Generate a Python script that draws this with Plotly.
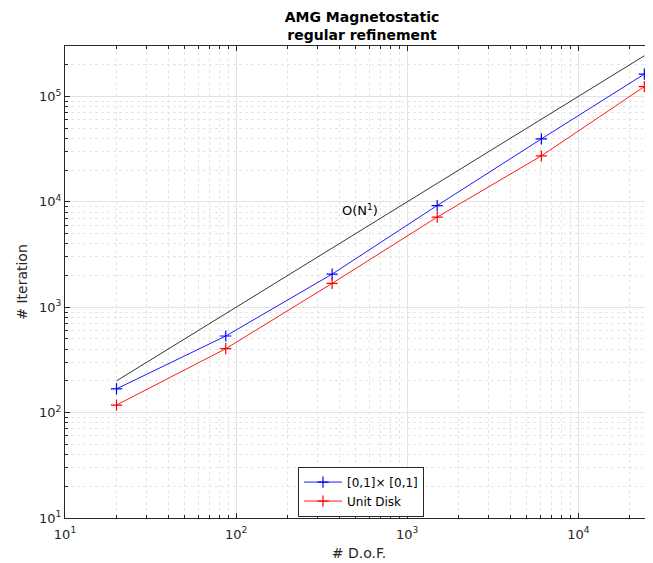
import plotly.graph_objects as go

# Data
dof = [20, 87, 364, 1497, 6084, 24320]
iter_square = [168, 533, 2061, 9225, 39540, 163000]
iter_disk = [118, 404, 1683, 7164, 27300, 123900]
ref_dof = [20, 24320]
ref_iter = [200, 243200]
series_names = ["[0,1]\u00d7 [0,1]", "Unit Disk"]
x_tickvals = [10, 100, 1000, 10000]
x_ticktext = ["10<sup>1</sup>", "10<sup>2</sup>", "10<sup>3</sup>", "10<sup>4</sup>"]
y_tickvals = [10, 100, 1000, 10000, 100000]
y_ticktext = ["10<sup>1</sup>", "10<sup>2</sup>", "10<sup>3</sup>", "10<sup>4</sup>", "10<sup>5</sup>"]

FONT = "DejaVu Sans"
AX = "#262626"
W, H = 645, 555  # page body adds an 8px margin

fig = go.Figure()
fig.add_trace(go.Scatter(x=ref_dof, y=ref_iter, mode="lines",
                         line=dict(color="black", width=0.8), showlegend=False))
fig.add_trace(go.Scatter(x=dof, y=iter_square, mode="lines+markers", name=series_names[0],
                         line=dict(color="#0000ff", width=0.9),
                         marker=dict(symbol="cross-thin", size=8, line=dict(color="#0000ff", width=1.2))))
fig.add_trace(go.Scatter(x=dof, y=iter_disk, mode="lines+markers", name=series_names[1],
                         line=dict(color="#ff0000", width=0.9),
                         marker=dict(symbol="cross-thin", size=8, line=dict(color="#ff0000", width=1.2))))

fig.add_annotation(x=2.726, y=3.924, xref="x", yref="y", text="O(N<sup>1</sup>)",
                   showarrow=False, font=dict(family=FONT, size=13, color="black"))

axis_common = dict(
    type="log", showline=True, linecolor=AX, linewidth=1,
    ticks="inside", ticklen=5, tickcolor=AX, tickwidth=1,
    showgrid=True, gridcolor="#e3e3e3", gridwidth=1,
    tickfont=dict(family=FONT, size=13, color=AX),
    minor=dict(dtick="D1", ticks="inside", ticklen=3, tickcolor=AX, showgrid=True,
               gridcolor="#e6e6e6", griddash="dot", gridwidth=1),
    zeroline=False, automargin=False,
)

fig.update_layout(
    width=W, height=H,
    margin=dict(l=57, r=0, t=38, b=H - 510.5),
    paper_bgcolor="white", plot_bgcolor="white",
    font=dict(family=FONT, color=AX),
    title=dict(text="<b>AMG Magnetostatic<br>regular refinement</b>",
               x=354/W, xanchor="center", xref="container",
               y=1-14/H, yanchor="top", yref="container", automargin=False,
               font=dict(family=FONT, size=14, color="black")),
    xaxis=dict(range=[1, 1 + 588/171.1], tickvals=x_tickvals, ticktext=x_ticktext,
               mirror="ticks", ticklabelstandoff=4,
               title=dict(text="# D.o.F.", font=dict(family=FONT, size=14, color=AX), standoff=7),
               **axis_common),
    yaxis=dict(range=[1, 1 + 472.5/105.5], tickvals=y_tickvals, ticktext=y_ticktext,
               mirror=False,
               title=dict(text="# Iteration", font=dict(family=FONT, size=14, color=AX), standoff=8),
               **axis_common),
    legend=dict(x=(298-65)/588, y=(518.5-467)/472.5, xanchor="left", yanchor="top",
                bgcolor="white", bordercolor="#262626", borderwidth=1,
                font=dict(family=FONT, size=12, color="black"),
                tracegroupgap=0, itemwidth=38),
)

fig.write_html("out.html")
